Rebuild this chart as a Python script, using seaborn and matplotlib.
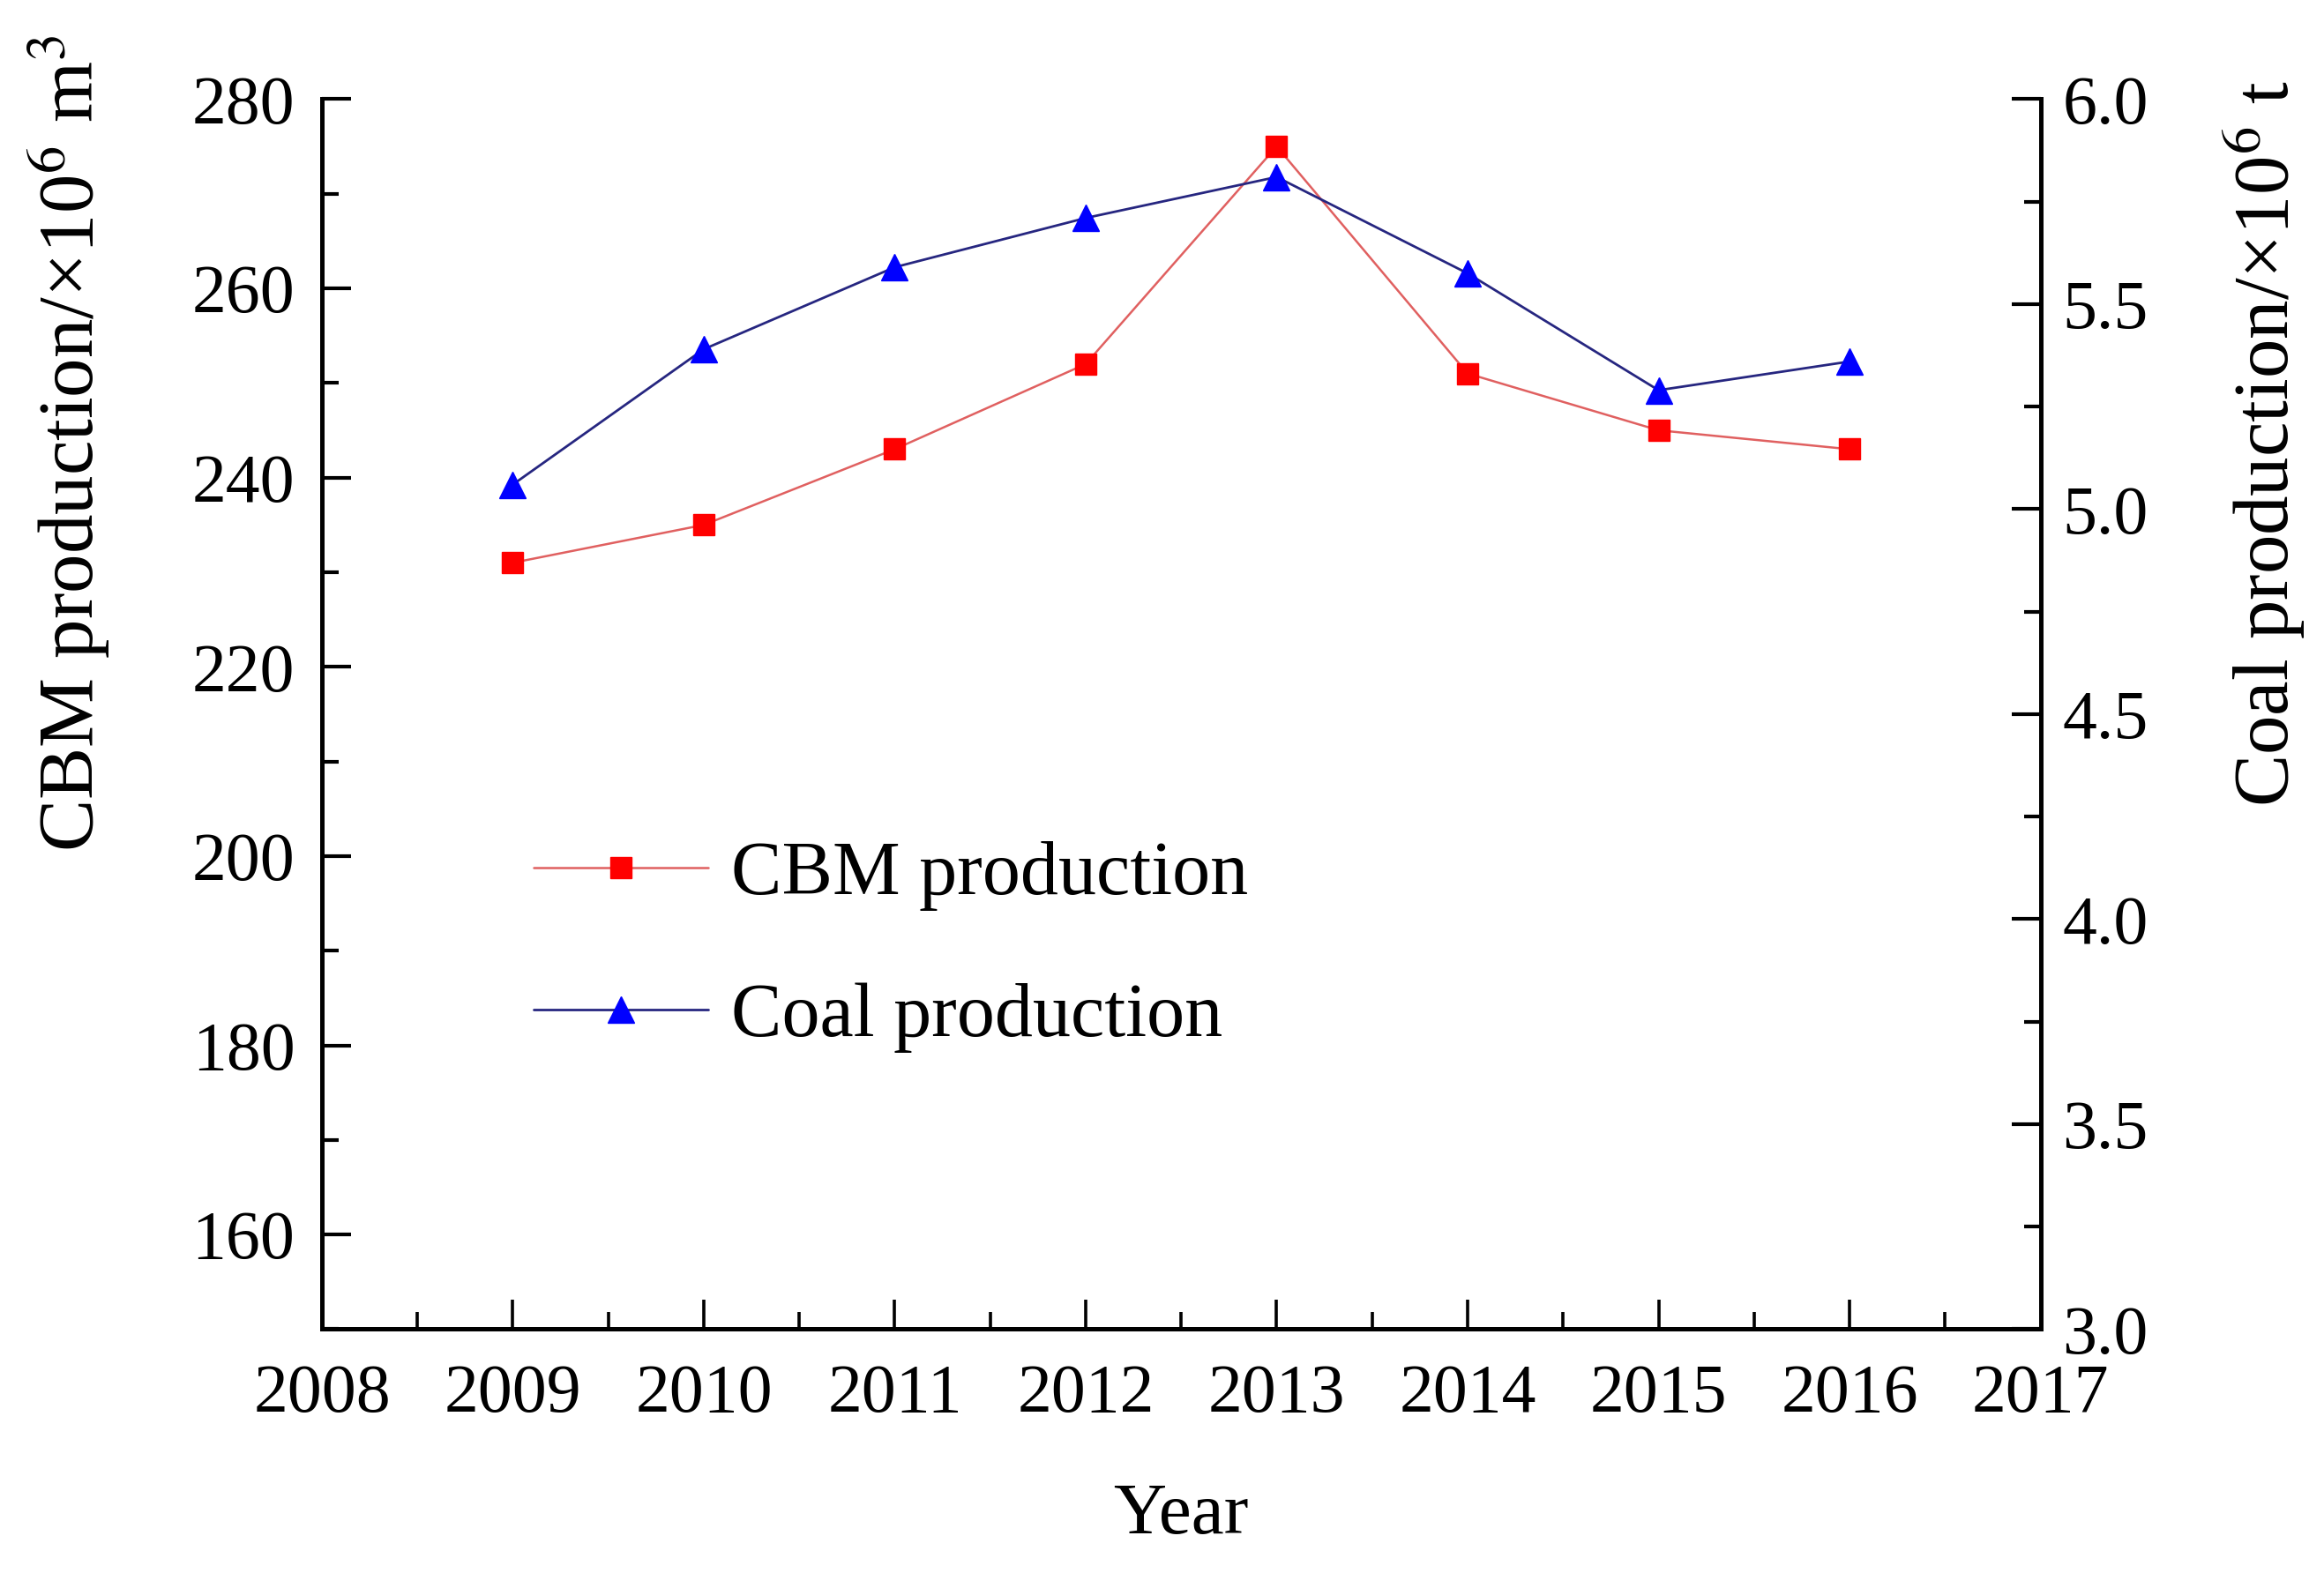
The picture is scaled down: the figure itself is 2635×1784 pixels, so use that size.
import numpy as np
import pandas as pd
import matplotlib
matplotlib.use('Agg')
import matplotlib.pyplot as plt
import seaborn as sns
from matplotlib.ticker import MultipleLocator, FormatStrFormatter

years = [2009, 2010, 2011, 2012, 2013, 2014, 2015, 2016]
cbm_production = [231, 235, 243, 252, 275, 251, 245, 243]
coal_production = [5.06, 5.39, 5.59, 5.71, 5.81, 5.575, 5.29, 5.36]

sns.set_theme(style='white')
plt.rcParams.update({
    'font.family': ['Liberation Serif', 'DejaVu Serif'],
    'mathtext.fontset': 'stix',
    'axes.linewidth': 1.8,
    'xtick.direction': 'in',
    'ytick.direction': 'in',
    'text.color': 'black',
    'axes.labelcolor': 'black',
    'xtick.color': 'black',
    'ytick.color': 'black',
})

df = pd.DataFrame({'Year': years, 'CBM': cbm_production, 'Coal': coal_production})

fig = plt.figure(figsize=(13.175, 8.92), dpi=200)
ax = fig.add_axes([0.1385, 0.155, 0.7395, 0.782])
ax2 = ax.twinx()

sns.lineplot(data=df, x='Year', y='CBM', ax=ax, color='#E06060', linewidth=0.9,
             marker='s', markersize=8.5, markerfacecolor='#FF0000',
             markeredgecolor='#FF0000', markeredgewidth=0.5, label='CBM production')
sns.lineplot(data=df, x='Year', y='Coal', ax=ax2, color='#262680', linewidth=1.0,
             marker='^', markersize=11, markerfacecolor='#0000FF',
             markeredgecolor='#0000FF', markeredgewidth=0.5, label='Coal production')

for a in (ax, ax2):
    lg = a.get_legend()
    if lg is not None:
        lg.remove()

ax.set_xlim(2008, 2017)
ax.set_ylim(150, 280)
ax2.set_ylim(3.0, 6.0)

ax.xaxis.set_major_locator(MultipleLocator(1))
ax.xaxis.set_minor_locator(MultipleLocator(0.5))
ax.xaxis.set_major_formatter(FormatStrFormatter('%d'))
ax.yaxis.set_major_locator(MultipleLocator(20))
ax.yaxis.set_minor_locator(MultipleLocator(10))
ax2.yaxis.set_major_locator(MultipleLocator(0.5))
ax2.yaxis.set_minor_locator(MultipleLocator(0.25))
ax2.yaxis.set_major_formatter(FormatStrFormatter('%.1f'))

ax.tick_params(axis='x', which='major', direction='in', length=12, width=1.3,
               labelsize=28, pad=14, top=False, bottom=True)
ax.tick_params(axis='x', which='minor', direction='in', length=7, width=1.3,
               top=False, bottom=True)
ax.tick_params(axis='y', which='major', direction='in', length=12, width=1.5,
               labelsize=28, pad=11, left=True, right=False)
ax.tick_params(axis='y', which='minor', direction='in', length=7, width=1.5,
               left=True, right=False)
ax2.tick_params(axis='y', which='major', direction='in', length=12, width=1.5,
                labelsize=28, pad=9, right=True, left=False)
ax2.tick_params(axis='y', which='minor', direction='in', length=7, width=1.5,
                right=True, left=False)

for a in (ax, ax2):
    a.spines['top'].set_visible(False)
    for s in a.spines.values():
        s.set_color('black')
ax.spines['right'].set_visible(False)
ax2.spines['left'].set_visible(False)
ax2.spines['bottom'].set_visible(False)

ax.set_xlabel('Year', fontsize=30)
ax.set_ylabel('CBM production/×10$^{6}$ m$^{3}$', fontsize=32)
ax2.set_ylabel('Coal production/×10$^{6}$ t', fontsize=32)
ax.xaxis.set_label_coords(0.5, -0.125)
ax.yaxis.set_label_coords(-0.122, 0.72)
ax2.yaxis.set_label_coords(1.105, 0.72)

h1, l1 = ax.get_legend_handles_labels()
h2, l2 = ax2.get_legend_handles_labels()
ax.legend(h1 + h2, l1 + l2, loc='center left', bbox_to_anchor=(0.123, 0.311),
          frameon=False, fontsize=31, handlelength=2.3, handletextpad=0.3,
          labelspacing=0.95, borderpad=0, borderaxespad=0)

fig.savefig('out.png', dpi=200, facecolor='white')
